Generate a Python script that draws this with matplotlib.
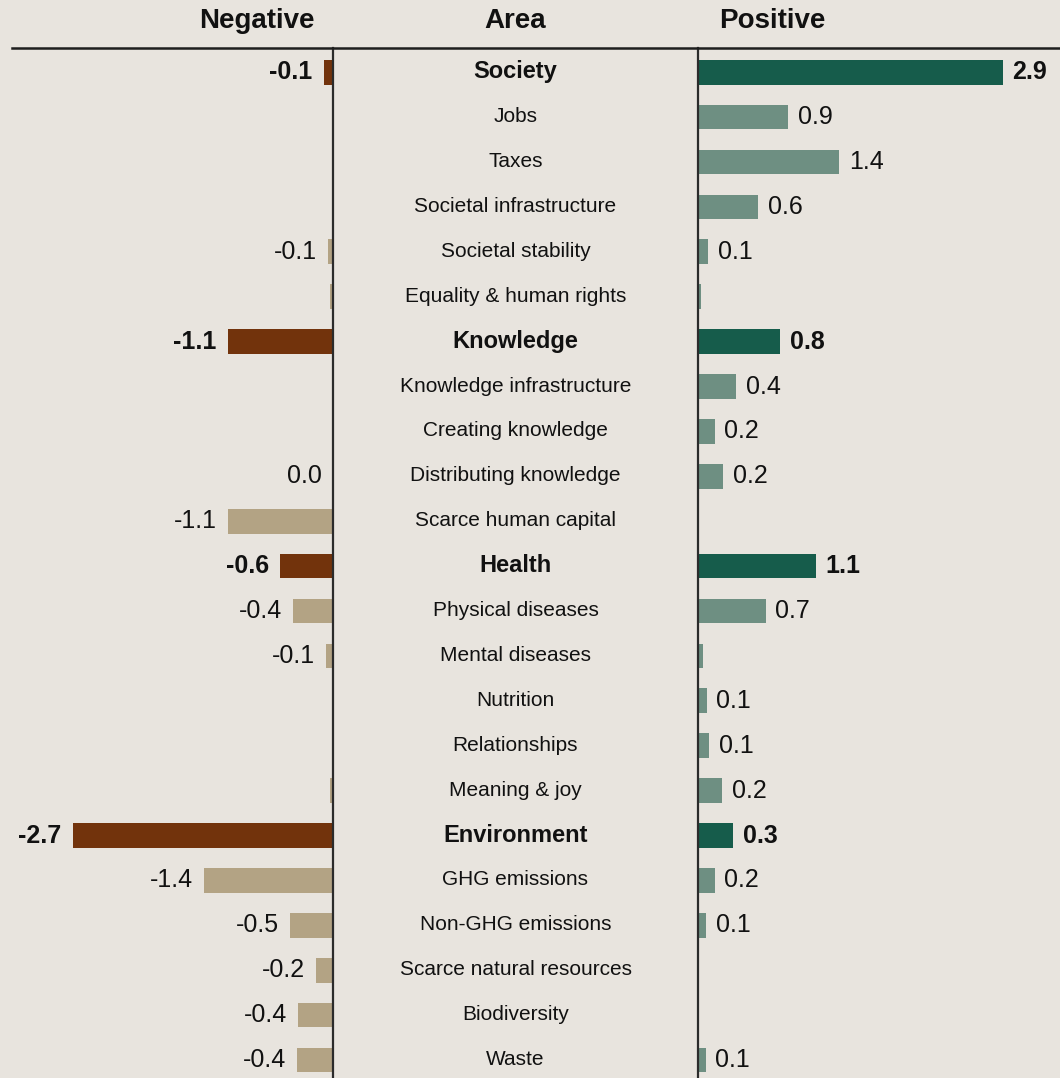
import matplotlib
matplotlib.use("Agg")
import matplotlib.pyplot as plt
from matplotlib.lines import Line2D

plt.rcParams["font.family"] = ["Liberation Sans", "DejaVu Sans"]

areas = [
    "Society", "Jobs", "Taxes", "Societal infrastructure", "Societal stability",
    "Equality & human rights",
    "Knowledge", "Knowledge infrastructure", "Creating knowledge",
    "Distributing knowledge", "Scarce human capital",
    "Health", "Physical diseases", "Mental diseases", "Nutrition",
    "Relationships", "Meaning & joy",
    "Environment", "GHG emissions", "Non-GHG emissions",
    "Scarce natural resources", "Biodiversity", "Waste",
]
is_category = [a in ("Society", "Knowledge", "Health", "Environment") for a in areas]

# magnitudes
negative = [0.098, 0, 0, 0, 0.056, 0.035,
            1.11, 0, 0, 0.0, 1.11,
            0.56, 0.42, 0.077, 0, 0.007, 0.035,
            2.74, 1.36, 0.45, 0.18, 0.37, 0.38]
positive = [2.93, 0.87, 1.36, 0.58, 0.10, 0.026,
            0.79, 0.37, 0.16, 0.24, 0,
            1.13, 0.65, 0.048, 0.084, 0.11, 0.23,
            0.34, 0.16, 0.077, 0, 0.01, 0.074]
negative_labels = ["-0.1", "", "", "", "-0.1", "",
                   "-1.1", "", "", "0.0", "-1.1",
                   "-0.6", "-0.4", "-0.1", "", "", "",
                   "-2.7", "-1.4", "-0.5", "-0.2", "-0.4", "-0.4"]
positive_labels = ["2.9", "0.9", "1.4", "0.6", "0.1", "",
                   "0.8", "0.4", "0.2", "0.2", "",
                   "1.1", "0.7", "", "0.1", "0.1", "0.2",
                   "0.3", "0.2", "0.1", "", "", "0.1"]

BG = "#e8e4de"
NEG_CAT, NEG_SUB = "#72330c", "#b3a384"
POS_CAT, POS_SUB = "#165c4b", "#6e8f82"

W, H = 1060, 1078
top = 48
fig = plt.figure(figsize=(W / 100, H / 100), dpi=100)
fig.patch.set_facecolor(BG)

axh = (H - top) / H
ax_neg = fig.add_axes([0, 0, 333 / W, axh])
ax_pos = fig.add_axes([698 / W, 0, 362 / W, axh])
ax_mid = fig.add_axes([333 / W, 0, 365 / W, axh])
ax_mid.set_zorder(5)

rows = list(range(len(areas)))
for ax in (ax_neg, ax_mid, ax_pos):
    ax.set_facecolor(BG)
    ax.set_ylim(22.4, -0.54)
    ax.set_xticks([])
    ax.set_yticks([])
    for s in ax.spines.values():
        s.set_visible(False)

ax_neg.set_xlim(-333 / 95, 0)
ax_pos.set_xlim(0, 362 / 104)
ax_mid.set_xlim(0, 1)
for side in ("left", "right"):
    ax_mid.spines[side].set_visible(True)
    ax_mid.spines[side].set_color("#2b2b2b")
    ax_mid.spines[side].set_linewidth(1.6)

neg_colors = [NEG_CAT if c else NEG_SUB for c in is_category]
pos_colors = [POS_CAT if c else POS_SUB for c in is_category]
ax_neg.barh(rows, [-v for v in negative], height=0.55, color=neg_colors, linewidth=0)
ax_pos.barh(rows, positive, height=0.55, color=pos_colors, linewidth=0)

for i, cat in enumerate(is_category):
    weight = "bold" if cat else "normal"
    if negative_labels[i]:
        ax_neg.annotate(negative_labels[i], xy=(-negative[i], i), xytext=(-8, 0),
                        textcoords="offset points", ha="right", va="center",
                        fontsize=18, fontweight=weight, color="#111111")
    if positive_labels[i]:
        ax_pos.annotate(positive_labels[i], xy=(positive[i], i), xytext=(7, 0),
                        textcoords="offset points", ha="left", va="center",
                        fontsize=18, fontweight=weight, color="#111111")
    ax_mid.text(0.5, i - 0.01, areas[i], ha="center", va="center",
                fontsize=17 if cat else 15, fontweight=weight, color="#111111")

# header row and rule
for x, t in ((257, "Negative"), (515, "Area"), (772, "Positive")):
    fig.text(x / W, 1 - 21 / H, t, ha="center", va="center",
             fontsize=20, fontweight="bold", color="#111111")
fig.add_artist(Line2D([12 / W, 1], [1 - top / H] * 2, transform=fig.transFigure,
                      color="#1e1e1e", linewidth=1.8, zorder=10))

fig.savefig("out.png", dpi=100, facecolor=fig.get_facecolor())
